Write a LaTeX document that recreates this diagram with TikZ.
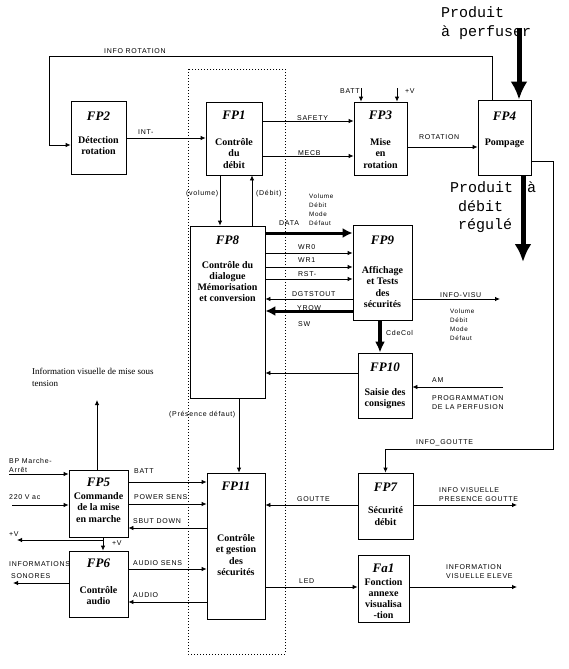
\documentclass[tikz,border=0pt]{standalone}
\usepackage{fontspec}
\setmainfont{Liberation Serif}
\setsansfont{Liberation Sans}
\setmonofont{Liberation Mono}
\newfontfamily\lblfont[LetterSpace=10]{Liberation Sans}
\usetikzlibrary{arrows.meta}
\begin{document}
\begin{tikzpicture}[x=1pt,y=-1pt,
 box/.style={draw, line width=0.8pt, inner sep=0pt},
 ttl/.style={font=\fontsize{13}{13}\selectfont\bfseries\itshape, inner sep=0pt},
 bdy/.style={font=\fontsize{10}{11.2}\selectfont\bfseries, align=center, inner sep=0pt},
 lbl/.style={font=\lblfont\fontsize{7}{9}\selectfont, inner sep=0pt, anchor=west},
 lbln/.style={font=\lblfont\fontsize{7}{9}\selectfont, inner sep=0pt, anchor=north west, align=left},
 tinyl/.style={font=\lblfont\fontsize{6.3}{9}\selectfont, inner sep=0pt, anchor=north west, align=left},
 note/.style={font=\fontsize{9}{11.5}\selectfont, inner sep=0pt, anchor=north west, align=left},
 mono/.style={font=\ttfamily\fontsize{15}{20}\selectfont, inner sep=0pt, anchor=base west},
 arr/.style={line width=0.8pt, -{Latex[length=5pt,width=4.5pt]}},
 tarr/.style={line width=3pt, -{Latex[length=10pt,width=10pt]}},
 bigarr/.style={line width=5pt, -{Latex[length=18pt,width=17pt]}},
 frame/.style={line width=0.7pt, dash pattern=on 1pt off 2pt}
]
\useasboundingbox[fill=white] (0,0) rectangle (568,669);

% dotted frame
\draw[frame] (188,69) rectangle (285,654);

% boxes
\node[box, minimum width=55pt, minimum height=73pt] (fp2) at (98.5,137.5) {};
\node[ttl] (fp2t) at (98.5,116) {FP2};
\node[bdy] (fp2b) at (98.5,145.5) {Détection\\rotation};

\node[box, minimum width=56pt, minimum height=73pt] (fp1) at (234,138.5) {};
\node[ttl] (fp1t) at (234,115) {FP1};
\node[bdy] (fp1b) at (234,153.5) {Contrôle\\du\\débit};

\node[box, minimum width=53pt, minimum height=73pt] (fp3) at (380.5,138.5) {};
\node[ttl] (fp3t) at (380.5,115) {FP3};
\node[bdy] (fp3b) at (380.5,153.5) {Mise\\en\\rotation};

\node[box, minimum width=53pt, minimum height=75pt] (fp4) at (504.5,137.5) {};
\node[ttl] (fp4t) at (504.5,116) {FP4};
\node[bdy] (fp4b) at (504.5,143) {Pompage};

\node[box, minimum width=75pt, minimum height=172pt] (fp8) at (227.5,312) {};
\node[ttl] (fp8t) at (227.5,240) {FP8};
\node[bdy] (fp8b) at (227.5,281.5) {Contrôle du\\dialogue\\Mémorisation\\et conversion};

\node[box, minimum width=59pt, minimum height=95pt] (fp9) at (382.5,272.5) {};
\node[ttl] (fp9t) at (382.5,240) {FP9};
\node[bdy] (fp9b) at (382.5,287) {Affichage\\et Tests\\des\\sécurités};

\node[box, minimum width=54pt, minimum height=65pt] (fp10) at (385,385.5) {};
\node[ttl] (fp10t) at (385,367) {FP10};
\node[bdy] (fp10b) at (385,399) {Saisie des\\consignes};

\node[box, minimum width=59pt, minimum height=67pt] (fp5) at (98.5,503.5) {};
\node[ttl] (fp5t) at (98.5,482) {FP5};
\node[bdy] (fp5b) at (98.5,507.5) {Commande\\de la mise\\en marche};

\node[box, minimum width=59pt, minimum height=66pt] (fp6) at (98.5,584) {};
\node[ttl] (fp6t) at (98.5,563) {FP6};
\node[bdy] (fp6b) at (98.5,595.5) {Contrôle\\audio};

\node[box, minimum width=58pt, minimum height=146pt] (fp11) at (236,546) {};
\node[ttl] (fp11t) at (236,486) {FP11};
\node[bdy] (fp11b) at (236,555) {Contrôle\\et gestion\\des\\sécurités};

\node[box, minimum width=55pt, minimum height=66pt] (fp7) at (385.5,506) {};
\node[ttl] (fp7t) at (385.5,487) {FP7};
\node[bdy] (fp7b) at (385.5,516) {Sécurité\\débit};

\node[box, minimum width=51pt, minimum height=67pt] (fa1) at (383.5,588.5) {};
\node[ttl] (fa1t) at (383.5,568) {Fa1};
\node[bdy] (fa1b) at (383.5,598.5) {Fonction\\annexe\\visualisa\\-tion};

% free-end coordinates
\coordinate (ir1) at (492,56);
\coordinate (ir2) at (49,56);
\coordinate (ir3) at (49,145);
\coordinate (battsrc) at (361,88);
\coordinate (vsrc) at (397,88);
\coordinate (prodin) at (519,28);
\coordinate (prodout) at (523,262);
\coordinate (ig1) at (553,161);
\coordinate (ig2) at (553,449);
\coordinate (ig3) at (385.5,449);
\coordinate (visu) at (500,299);
\coordinate (amsrc) at (503,387);
\coordinate (mstup) at (97,400);
\coordinate (bpsrc) at (9,474);
\coordinate (acsrc) at (12,505);
\coordinate (vleft) at (17,540);
\coordinate (vbr) at (103,540);
\coordinate (sono) at (13,583);
\coordinate (pres) at (517,505);
\coordinate (eleve) at (517,587);

% connectors
\draw[arr] (fp4.north -| ir1) -- (ir1) -- (ir2) -- (ir3) -- (fp2.west |- ir3);
\draw[arr] (fp2.east |- 0,138) -- (fp1.west |- 0,138);
\draw[arr] (fp1.east |- 0,121) -- (fp3.west |- 0,121);
\draw[arr] (fp1.east |- 0,156) -- (fp3.west |- 0,156);
\draw[arr] (battsrc) -- (fp3.north -| battsrc);
\draw[arr] (vsrc) -- (fp3.north -| vsrc);
\draw[arr] (fp3.east |- 0,147) -- (fp4.west |- 0,147);
\draw[arr] (fp4.east |- ig1) -- (ig1) -- (ig2) -- (ig3) -- (fp7.north);
\draw[arr] (fp1.south -| 220,0) -- (fp8.north -| 220,0);
\draw[arr] (fp8.north -| 252,0) -- (fp1.south -| 252,0);
\draw[tarr] (fp8.east |- 0,233) -- (fp9.west |- 0,233);
\draw[arr] (fp8.east |- 0,253) -- (fp9.west |- 0,253);
\draw[arr] (fp8.east |- 0,267) -- (fp9.west |- 0,267);
\draw[arr] (fp8.east |- 0,279) -- (fp9.west |- 0,279);
\draw[arr] (fp9.west |- 0,299) -- (fp8.east |- 0,299);
\draw[tarr] (fp9.west |- 0,311) -- (fp8.east |- 0,311);
\draw[line width=3.5pt, -{Latex[length=11pt,width=10pt]}] (fp9.south -| 380,0) -- (fp10.north -| 380,0);
\draw[arr] (fp9.east |- visu) -- (visu);
\draw[arr] (fp10.west |- 0,373) -- (fp8.east |- 0,373);
\draw[arr] (amsrc) -- (fp10.east |- amsrc);
\draw[arr] (fp8.south -| 239,0) -- (fp11.north -| 239,0);
\draw[arr] (fp5.north -| mstup) -- (mstup);
\draw[arr] (bpsrc) -- (fp5.west |- bpsrc);
\draw[arr] (acsrc) -- (fp5.west |- acsrc);
\draw[arr] (fp5.south -| vbr) -- (fp6.north -| vbr);
\draw[arr] (vbr) -- (vleft);
\draw[arr] (fp5.east |- 0,482) -- (fp11.west |- 0,482);
\draw[arr] (fp5.east |- 0,504) -- (fp11.west |- 0,504);
\draw[arr] (fp11.west |- 0,528) -- (fp5.east |- 0,528);
\draw[arr] (fp6.east |- 0,569) -- (fp11.west |- 0,569);
\draw[arr] (fp11.west |- 0,602) -- (fp6.east |- 0,602);
\draw[arr] (fp6.west |- sono) -- (sono);
\draw[arr] (fp7.west |- 0,505) -- (fp11.east |- 0,505);
\draw[arr] (fp7.east |- pres) -- (pres);
\draw[arr] (fp11.east |- 0,587) -- (fa1.west |- 0,587);
\draw[arr] (fa1.east |- eleve) -- (eleve);

% labels
\node[lbl] (l1) at (104,51) {INFO ROTATION};
\node[lbl] (l2) at (138,132) {INT-};
\node[lbl] (l3) at (297,118) {SAFETY};
\node[lbl] (l4) at (298,153) {MECB};
\node[lbl] (l5) at (340,91) {BATT};
\node[lbl] (l6) at (405,91) {+V};
\node[lbl] (l7) at (419,137) {ROTATION};
\node[lbl] (l8) at (186,193.5) {(volume)};
\node[lbl] (l9) at (256,193.5) {(Débit)};
\node[lbl] (l10) at (279,223) {DATA};
\node[tinyl] (l11) at (309,193.5) {Volume\\Débit\\Mode\\Défaut};
\node[lbl] (l12) at (298,247) {WR0};
\node[lbl] (l13) at (298,260) {WR1};
\node[lbl] (l14) at (298,274) {RST-};
\node[lbl] (l15) at (292,294) {DGTSTOUT};
\node[lbl] (l16) at (297,308) {YROW};
\node[lbl] (l17) at (298,324) {SW};
\node[lbl] (l18) at (386,333) {CdeCol};
\node[lbl] (l19) at (440,295) {INFO-VISU};
\node[tinyl] (l20) at (450,308.5) {Volume\\Débit\\Mode\\Défaut};
\node[lbl] (l21) at (432,380) {AM};
\node[lbln] (l22) at (432,395.5) {PROGRAMMATION\\DE LA PERFUSION};
\node[lbl] (l23) at (169,415) {(Présence défaut)};
\node[note] (l24) at (32,368) {Information visuelle de mise sous\\tension};
\node[lbln] (l25) at (9,458) {BP Marche-\\Arrêt};
\node[lbl] (l26) at (9,497) {220 V ac};
\node[lbl] (l27) at (9,534) {+V};
\node[lbl] (l28) at (112,543) {+V};
\node[lbl] (l29) at (134,471) {BATT};
\node[lbl] (l30) at (134,497) {POWER SENS};
\node[lbl] (l31) at (133,521) {SBUT DOWN};
\node[lbl] (l32) at (133,563) {AUDIO SENS};
\node[lbl] (l33) at (133,595) {AUDIO};
\node[lbl] (l34) at (9,564) {INFORMATIONS};
\node[lbl] (l35) at (11,576) {SONORES};
\node[lbl] (l36) at (416,443) {INFO\_GOUTTE};
\node[lbl] (l37) at (297,499) {GOUTTE};
\node[lbln] (l38) at (439,487.5) {INFO VISUELLE\\PRESENCE GOUTTE};
\node[lbl] (l39) at (299,581) {LED};
\node[lbln] (l40) at (446,564.5) {INFORMATION\\VISUELLE ELEVE};

% big product texts and arrows
\node[mono] (p1) at (441,18) {Produit};
\node[mono] (p2) at (441,37) {à perfuser};
\node[mono] (p3) at (450,192) {Produit\kern5pt{} à};
\node[mono] (p4) at (458,211) {débit};
\node[mono] (p5) at (458,229) {régulé};
\draw[bigarr] (prodin) -- (fp4.north -| prodin);
\draw[bigarr] (fp4.south -| prodout) -- (prodout);
\end{tikzpicture}
\end{document}
